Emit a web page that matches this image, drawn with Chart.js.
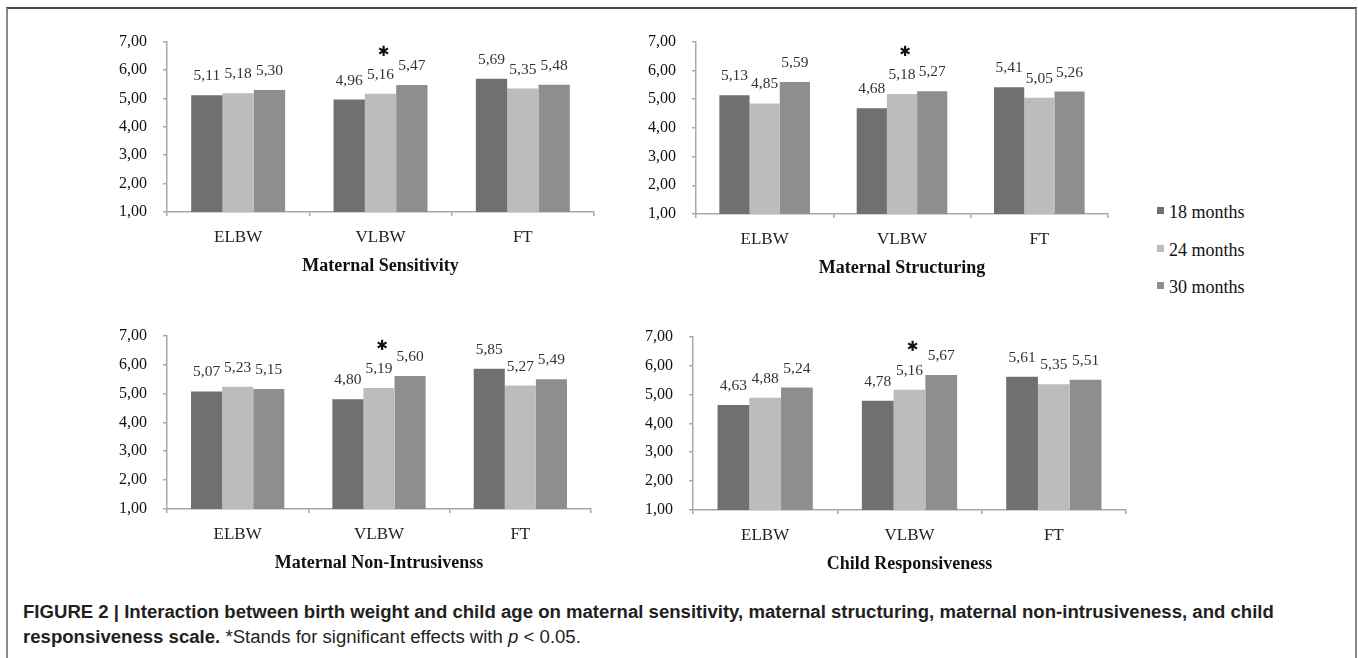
<!DOCTYPE html>
<html>
<head>
<meta charset="utf-8">
<script src="https://cdn.jsdelivr.net/npm/chart.js@4.4.1/dist/chart.umd.min.js"></script>
<style>
  html, body { margin: 0; padding: 0; background: #fff; }
  body { width: 1358px; height: 658px; position: relative; overflow: hidden; }
  .frame {
    position: absolute; left: 6px; top: 7px; width: 1347px; height: 700px;
    border-top: 2px solid #4a4a4a; border-left: 2px solid #8a8a8a; border-right: 2px solid #8a8a8a;
  }
  canvas { position: absolute; }
  .legend { position: absolute; left: 1157px; top: 194px; font: 18px 'Liberation Serif', serif; color: #111; }
  .legend .row { height: 37.5px; line-height: 37.5px; position: relative; padding-left: 12px; white-space: nowrap; }
  .legend .sw { position: absolute; left: 0; top: 13px; width: 7px; height: 7px; }
  .caption {
    position: absolute; left: 23px; top: 599px; white-space: nowrap;
    font: 17px 'Liberation Sans', Arial, sans-serif; line-height: 25px; color: #231f20;
  }
</style>
</head>
<body>
<div class="frame"></div>

<canvas id="c1" width="497" height="266" style="left:107px;top:16px"></canvas>
<canvas id="c2" width="482" height="268" style="left:636px;top:16px"></canvas>
<canvas id="c3" width="494" height="269" style="left:107px;top:310px"></canvas>
<canvas id="c4" width="503" height="269" style="left:633px;top:311px"></canvas>

<div class="legend" id="legend"></div>

<div class="caption" id="caption"><b id="cap1">FIGURE 2 | Interaction between birth weight and child age on maternal sensitivity, maternal structuring, maternal non-intrusiveness, and child</b><br><b>responsiveness scale.</b> *Stands for significant effects with <i>p</i> &lt; 0.05.</div>

<script>
// categories and series
const groups = ['ELBW', 'VLBW', 'FT'];
const ages = ['18 months', '24 months', '30 months'];
const yTickValues = [1, 2, 3, 4, 5, 6, 7];
const sigGroup = 'VLBW';

const sensitivity18 = [5.11, 4.96, 5.69];
const sensitivity24 = [5.18, 5.16, 5.35];
const sensitivity30 = [5.30, 5.47, 5.48];

const structuring18 = [5.13, 4.68, 5.41];
const structuring24 = [4.85, 5.18, 5.05];
const structuring30 = [5.59, 5.27, 5.26];

const nonIntrusive18 = [5.07, 4.80, 5.85];
const nonIntrusive24 = [5.23, 5.19, 5.27];
const nonIntrusive30 = [5.15, 5.60, 5.49];

const childResp18 = [4.63, 4.78, 5.61];
const childResp24 = [4.88, 5.16, 5.35];
const childResp30 = [5.24, 5.67, 5.51];

const BAR = ['#707070', '#bcbcbc', '#8e8e8e'];
const AXIS = '#a8a8a8';
const SERIF = "'Liberation Serif', 'Times New Roman', serif";

Chart.defaults.font.family = SERIF;
Chart.defaults.color = '#1a1a1a';

const fmt = v => v.toFixed(2).replace('.', ',');

// value labels above bars + significance star
const valueLabels = {
  id: 'valueLabels',
  afterDatasetsDraw(chart) {
    const { ctx, chartArea } = chart;
    ctx.save();
    ctx.font = '15.5px ' + SERIF;
    ctx.fillStyle = '#333';
    ctx.textAlign = 'center';
    ctx.textBaseline = 'middle';
    chart.data.datasets.forEach((ds, i) => {
      chart.getDatasetMeta(i).data.forEach((bar, j) => {
        ctx.fillText(fmt(ds.data[j]), bar.x, bar.y - 19);
      });
    });
    const j = groups.indexOf(sigGroup);
    const mid = chart.getDatasetMeta(1).data[j];
    ctx.font = "bold 14px 'DejaVu Sans'";
    ctx.fillStyle = '#111';
    ctx.fillText('\u2731', mid.x + 3, chartArea.top + 11);
    ctx.restore();
  },
};

function makePanel(id, title, s18, s24, s30) {
  const series = [s18, s24, s30];
  return new Chart(document.getElementById(id), {
    type: 'bar',
    data: {
      labels: groups,
      datasets: ages.map((a, i) => ({
        label: a,
        data: series[i],
        backgroundColor: BAR[i],
        borderWidth: 0,
        categoryPercentage: 0.66,
        barPercentage: 1,
      })),
    },
    options: {
      responsive: false,
      animation: false,
      layout: { padding: { top: 20, right: 10, left: 0, bottom: 0 } },
      plugins: { legend: { display: false }, tooltip: { enabled: false } },
      scales: {
        x: {
          grid: { drawOnChartArea: false, tickLength: 4, color: AXIS, lineWidth: 1.5 },
          border: { color: AXIS, width: 1.5 },
          ticks: { color: '#222', font: { size: 17 }, padding: 11 },
          title: {
            display: true, text: title, color: '#111',
            font: { size: 18, weight: 'bold' }, padding: { top: 0, bottom: 5 },
          },
          afterFit: s => { s.height = 70; },
        },
        y: {
          min: 1,
          max: 7,
          afterBuildTicks: s => { s.ticks = yTickValues.map(v => ({ value: v })); },
          grid: { drawOnChartArea: false, tickLength: 4, color: AXIS, lineWidth: 1.5 },
          border: { color: AXIS, width: 1.5 },
          ticks: { callback: v => fmt(v), color: '#111', font: { size: 16 }, padding: 16 },
          afterFit: s => { s.width = 60; },
        },
      },
    },
    plugins: [valueLabels],
  });
}

makePanel('c1', 'Maternal Sensitivity', sensitivity18, sensitivity24, sensitivity30);
makePanel('c2', 'Maternal Structuring', structuring18, structuring24, structuring30);
makePanel('c3', 'Maternal Non-Intrusivenss', nonIntrusive18, nonIntrusive24, nonIntrusive30);
makePanel('c4', 'Child Responsiveness', childResp18, childResp24, childResp30);

// legend
const legendEl = document.getElementById('legend');
ages.forEach((a, i) => {
  const row = document.createElement('div');
  row.className = 'row';
  row.innerHTML = '<span class="sw" style="background:' + BAR[i] + '"></span>' + a;
  legendEl.appendChild(row);
});

// caption: first line runs from x=23 to about x=1275
const cap = document.getElementById('caption');
const w1 = document.getElementById('cap1').getBoundingClientRect().width;
cap.style.fontSize = (17 * 1252 / w1).toFixed(2) + 'px';
</script>
</body>
</html>
